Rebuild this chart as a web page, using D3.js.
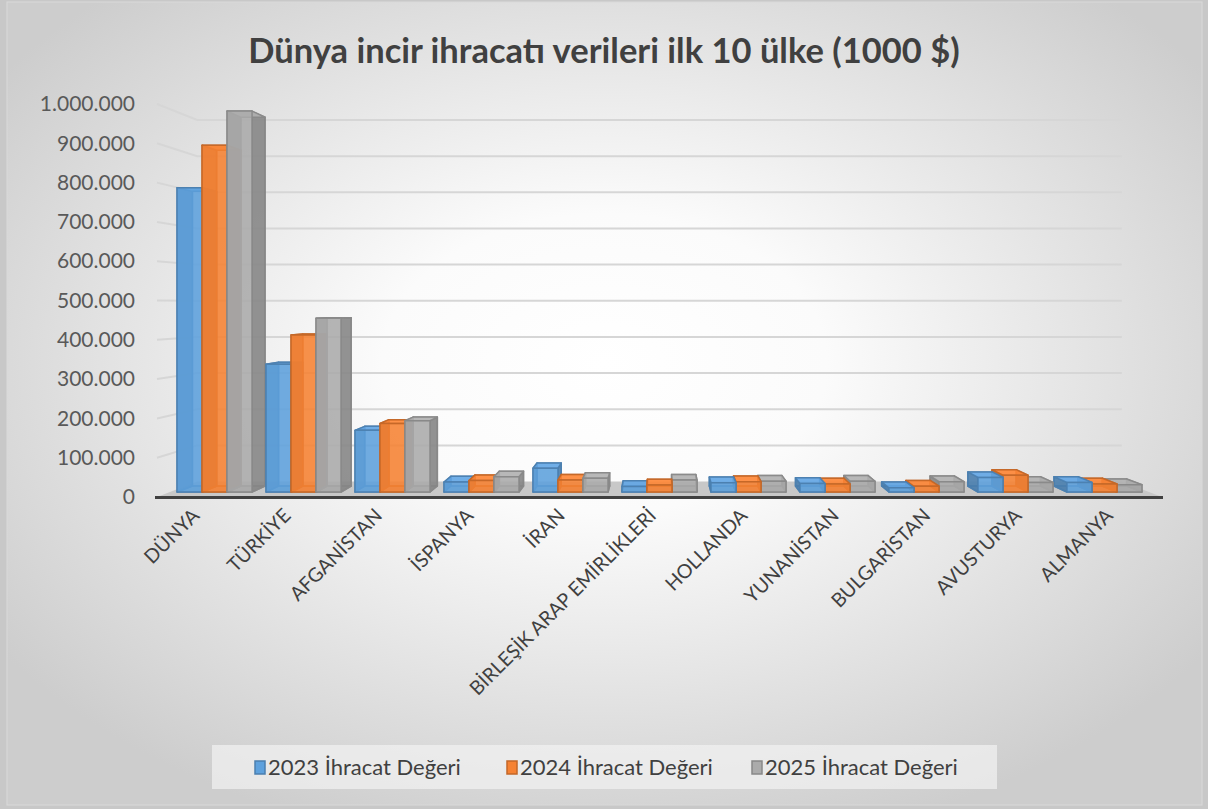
<!DOCTYPE html>
<html>
<head>
<meta charset="utf-8">
<script src="https://cdn.jsdelivr.net/npm/d3@7"></script>
<style>
  html, body { margin: 0; padding: 0; background: #c8c8c8; }
  svg { display: block; }
  text { font-family: Lato, "Open Sans", sans-serif; }
</style>
</head>
<body>
<div id="chart"></div>
<script>
// chart values (1000 $)
var countries = ["DÜNYA", "TÜRKİYE", "AFGANİSTAN", "İSPANYA", "İRAN",
                 "BİRLEŞİK ARAP EMİRLİKLERİ", "HOLLANDA", "YUNANİSTAN",
                 "BULGARİSTAN", "AVUSTURYA", "ALMANYA"];
var seriesNames = ["2023 İhracat Değeri", "2024 İhracat Değeri", "2025 İhracat Değeri"];
var values2023 = [795000, 334000, 161000, 26000, 62000, 14000, 24000, 22000, 11000, 38000, 25000];
var values2024 = [906000, 410000, 179000, 30000, 31000, 18000, 27000, 21000, 15000, 44000, 21000];
var values2025 = [995000, 454000, 186000, 40000, 36000, 31000, 28000, 28000, 27000, 25000, 19000];
var yTicks = [0, 100000, 200000, 300000, 400000, 500000, 600000, 700000, 800000, 900000, 1000000];
var seriesColors = ["#5B9BD5", "#ED7D31", "#A5A5A5"];

var W = 1208, H = 809;
var svg = d3.select("#chart").append("svg")
    .attr("width", W).attr("height", H);

// background gradient
var defs = svg.append("defs");
var grad = defs.append("radialGradient").attr("id", "bg")
    .attr("cx", "50%").attr("cy", "45%").attr("r", "62%");
grad.append("stop").attr("offset", "0%").attr("stop-color", "#ffffff");
grad.append("stop").attr("offset", "30%").attr("stop-color", "#fbfbfb");
grad.append("stop").attr("offset", "100%").attr("stop-color", "#cdcdcd");

svg.append("rect").attr("x", 7).attr("y", 2).attr("width", 1195).attr("height", 803)
    .attr("fill", "url(#bg)").attr("stroke", "#d9d9d9");

// title
svg.append("text")
    .attr("x", 604).attr("y", 63)
    .attr("text-anchor", "middle")
    .style("font-size", "34.5px").style("font-weight", "bold")
    .attr("fill", "#404040")
    .text("Dünya incir ihracatı verileri ilk 10 ülke (1000 $)");

// scales (front plane)
var x = d3.scaleBand().domain(countries).range([157, 1162])
    .paddingInner(0.157).paddingOuter(0.0785);
var xs = d3.scaleBand().domain(seriesNames).range([0, x.bandwidth()]);
var y = d3.scaleLinear().domain([0, 1000000]).range([497, 104]);

// perspective
var vx = 659.5, vy = 304;
var sFront = 0.974, sBack = 0.943, sWall = 0.92;
function P(px, py, s) { return [vx + (px - vx) * s, vy + (py - vy) * s]; }

var loc = d3.formatLocale({ decimal: ",", thousands: ".", grouping: [3], currency: ["", ""] });
var fmt = loc.format(",d");

// gridlines: left wall + back wall
var grid = svg.append("g");
yTicks.forEach(function (t) {
  if (t === 0) return;
  var a = P(157, y(t), 1), b = P(157, y(t), sWall), c = P(1162, y(t), sWall);
  grid.append("path")
      .attr("d", d3.line()([a, b, c]))
      .attr("fill", "none").attr("stroke", "#d6d6d6").attr("stroke-width", 2);
});

// floor
var floorPts = [P(157, y(0), 1), P(1162, y(0), 1), P(1162, y(0), sWall), P(157, y(0), sWall)];
svg.append("path").attr("d", d3.line()(floorPts) + "Z")
    .attr("fill", "#c8c8c8");
svg.append("line").attr("x1", 155).attr("x2", 1163)
    .attr("y1", y(0) + 0.5).attr("y2", y(0) + 0.5)
    .attr("stroke", "#404040").attr("stroke-width", 3);

// y axis labels
var yAxis = svg.append("g").attr("transform", "translate(137,0)")
    .call(d3.axisLeft(y).tickValues(yTicks).tickSize(0).tickPadding(2).tickFormat(fmt));
yAxis.select(".domain").remove();
yAxis.selectAll("text").style("font-size", "21px").attr("fill", "#595959")
    .style("font-family", "Lato, sans-serif");

// x axis labels
var xAxis = svg.append("g").attr("transform", "translate(0," + (y(0) + 14) + ")")
    .call(d3.axisBottom(x).tickSize(0).tickPadding(0));
xAxis.select(".domain").remove();
xAxis.selectAll("text")
    .style("font-size", "19.5px").attr("fill", "#404040")
    .style("font-family", "Lato, sans-serif")
    .attr("text-anchor", "end")
    .attr("dy", "0.35em").attr("y", 0).attr("x", 0)
    .attr("transform", "translate(-7,1) rotate(-45)");

// bars
var allValues = [values2023, values2024, values2025];
var bars = [];
countries.forEach(function (c, i) {
  seriesNames.forEach(function (s, j) {
    var x0 = x(c) + xs(s), x1 = x0 + xs.bandwidth();
    bars.push({ x0: x0, x1: x1, v: allValues[j][i], color: seriesColors[j] });
  });
});
bars.sort(function (a, b) {
  return Math.abs((b.x0 + b.x1) / 2 - vx) - Math.abs((a.x0 + a.x1) / 2 - vx);
});

var line = d3.line();
var barLayer = svg.append("g");
bars.forEach(function (b) {
  var yb = y(0), yt = y(b.v);
  var FLB = P(b.x0, yb, sFront), FRB = P(b.x1, yb, sFront),
      FRT = P(b.x1, yt, sFront), FLT = P(b.x0, yt, sFront),
      BLB = P(b.x0, yb, sBack), BRB = P(b.x1, yb, sBack),
      BRT = P(b.x1, yt, sBack), BLT = P(b.x0, yt, sBack);
  var base = d3.color(b.color);
  var stroke = base.darker(0.55).formatHex();
  var faces = [
    { pts: [BLB, BRB, BRT, BLT], fill: base.formatHex(), op: 0.35 },
    { pts: [FLB, FRB, BRB, BLB], fill: base.darker(0.3).formatHex(), op: 0.5 },
    { pts: [FLB, BLB, BLT, FLT], fill: base.darker(0.6).formatHex(), op: 0.85 },
    { pts: [FRB, BRB, BRT, FRT], fill: base.darker(0.6).formatHex(), op: 0.85 },
    { pts: [FLT, FRT, BRT, BLT], fill: base.brighter(0.2).formatHex(), op: 0.85 },
    { pts: [FLB, FRB, FRT, FLT], fill: base.brighter(0.1).formatHex(), op: 0.82 }
  ];
  var g = barLayer.append("g");
  faces.forEach(function (f) {
    g.append("path").attr("d", line(f.pts) + "Z")
        .attr("fill", f.fill).attr("fill-opacity", f.op)
        .attr("stroke", stroke).attr("stroke-width", 1.5)
        .attr("stroke-linejoin", "round").attr("stroke-opacity", 0.9);
  });
});

// legend
var legend = svg.append("g");
legend.append("rect").attr("x", 212).attr("y", 745).attr("width", 785).attr("height", 44)
    .attr("fill", "#f2f2f2").attr("fill-opacity", 0.7);
var legendX = [255, 507, 752];
seriesNames.forEach(function (s, j) {
  var c = d3.color(seriesColors[j]);
  legend.append("rect").attr("x", legendX[j]).attr("y", 761).attr("width", 10).attr("height", 13)
      .attr("fill", c.brighter(0.1).formatHex()).attr("stroke", c.darker(0.55).formatHex())
      .attr("stroke-width", 1.5);
  legend.append("text").attr("x", legendX[j] + 13).attr("y", 775)
      .style("font-size", "22px").attr("fill", "#404040").text(s);
});
</script>
</body>
</html>
